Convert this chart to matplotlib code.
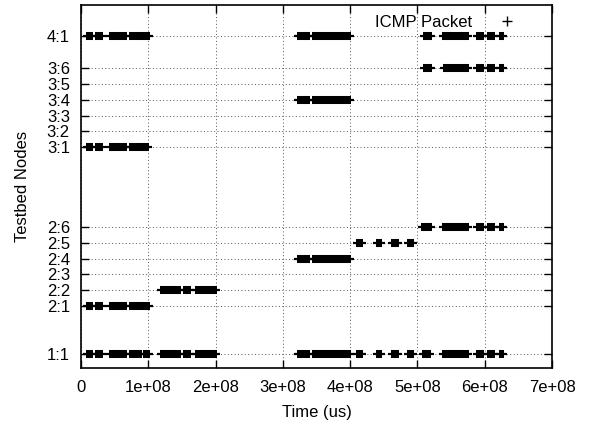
import matplotlib
matplotlib.use("Agg")
from matplotlib import pyplot as plt
from matplotlib.lines import Line2D

plt.rcParams['font.family'] = ['Liberation Sans', 'DejaVu Sans']

# node labels and the numeric id each node is plotted at
node_labels = ['1:1', '2:1', '2:2', '2:3', '2:4', '2:5', '2:6',
               '3:1', '3:2', '3:3', '3:4', '3:5', '3:6', '4:1']
node_ids = [1, 4, 5, 6, 7, 8, 9, 14, 15, 16, 17, 18, 19, 21]

# packet bursts seen by each node, (start, end) in us
node_1_1 = [(0.07e8, 0.18e8), (0.21e8, 0.32e8), (0.42e8, 0.68e8), (0.72e8, 0.90e8),
            (0.92e8, 1.02e8), (1.17e8, 1.48e8), (1.51e8, 1.64e8), (1.69e8, 2.02e8),
            (3.21e8, 3.41e8), (3.44e8, 4.02e8), (4.09e8, 4.19e8), (4.38e8, 4.48e8),
            (4.61e8, 4.73e8), (4.85e8, 4.95e8), (5.07e8, 5.20e8), (5.37e8, 5.77e8),
            (5.87e8, 5.99e8), (6.04e8, 6.15e8), (6.21e8, 6.28e8)]
node_2_1 = [(0.07e8, 0.18e8), (0.21e8, 0.32e8), (0.42e8, 0.68e8), (0.72e8, 1.02e8)]
node_2_2 = [(1.17e8, 1.48e8), (1.51e8, 1.64e8), (1.69e8, 2.02e8)]
node_2_3 = []
node_2_4 = [(3.21e8, 3.41e8), (3.44e8, 4.02e8)]
node_2_5 = [(4.09e8, 4.19e8), (4.38e8, 4.48e8), (4.61e8, 4.72e8), (4.85e8, 4.95e8)]
node_2_6 = [(5.06e8, 5.21e8), (5.37e8, 5.77e8), (5.87e8, 5.99e8), (6.04e8, 6.15e8),
            (6.21e8, 6.28e8)]
node_3_1 = [(0.07e8, 0.18e8), (0.21e8, 0.32e8), (0.42e8, 0.68e8), (0.72e8, 1.01e8)]
node_3_2 = []
node_3_3 = []
node_3_4 = [(3.21e8, 3.41e8), (3.44e8, 4.02e8)]
node_3_5 = []
node_3_6 = [(5.08e8, 5.21e8), (5.38e8, 5.77e8), (5.87e8, 5.99e8), (6.04e8, 6.15e8),
            (6.21e8, 6.28e8)]
node_4_1 = [(0.07e8, 0.18e8), (0.21e8, 0.32e8), (0.42e8, 0.68e8), (0.72e8, 1.02e8),
            (3.21e8, 3.41e8), (3.44e8, 4.02e8), (5.08e8, 5.21e8), (5.37e8, 5.77e8),
            (5.87e8, 5.99e8), (6.04e8, 6.15e8), (6.21e8, 6.28e8)]

bursts = [node_1_1, node_2_1, node_2_2, node_2_3, node_2_4, node_2_5, node_2_6,
          node_3_1, node_3_2, node_3_3, node_3_4, node_3_5, node_3_6, node_4_1]

x_ticks = [0, 1e8, 2e8, 3e8, 4e8, 5e8, 6e8, 7e8]
x_tick_labels = ['0', '1e+08', '2e+08', '3e+08', '4e+08', '5e+08', '6e+08', '7e+08']

fig = plt.figure(figsize=(5.92, 4.24), dpi=100)
ax = fig.add_axes([81 / 592, 56 / 424, 471 / 592, 363 / 424])

for y, row in zip(node_ids, bursts):
    for s, e in row:
        ax.plot([s, e], [y, y], color='black', lw=5.8, solid_capstyle='butt',
                marker='_', ms=4.5, mew=1.6)

ax.set_xlim(0, 7e8)
ax.set_ylim(0.11, 22.96)
ax.set_xticks(x_ticks)
ax.set_xticklabels(x_tick_labels)
ax.set_yticks(node_ids)
ax.set_yticklabels(node_labels)

ax.tick_params(direction='in', top=True, right=True, length=6, width=1,
               labelsize=12, colors='black')
ax.tick_params(axis='x', pad=9)
ax.tick_params(axis='y', pad=8)
for sp in ax.spines.values():
    sp.set_linewidth(1.2)

ax.set_axisbelow(True)
ax.grid(True, color='#555555', lw=0.7, linestyle=(0, (1, 2.5)))

ax.set_xlabel('Time (us)', fontsize=12, labelpad=7)
ax.set_ylabel('Testbed Nodes', fontsize=12, labelpad=12)

proxy = Line2D([], [], color='black', marker='+', ms=7, mew=1, linestyle='none')
ax.legend([proxy], ['ICMP Packet'], loc='upper right', bbox_to_anchor=(0.954, 0.991),
          borderaxespad=0, frameon=False, markerfirst=False, handlelength=2,
          handletextpad=1.1, fontsize=12)

plt.savefig('out.png', dpi=100)
